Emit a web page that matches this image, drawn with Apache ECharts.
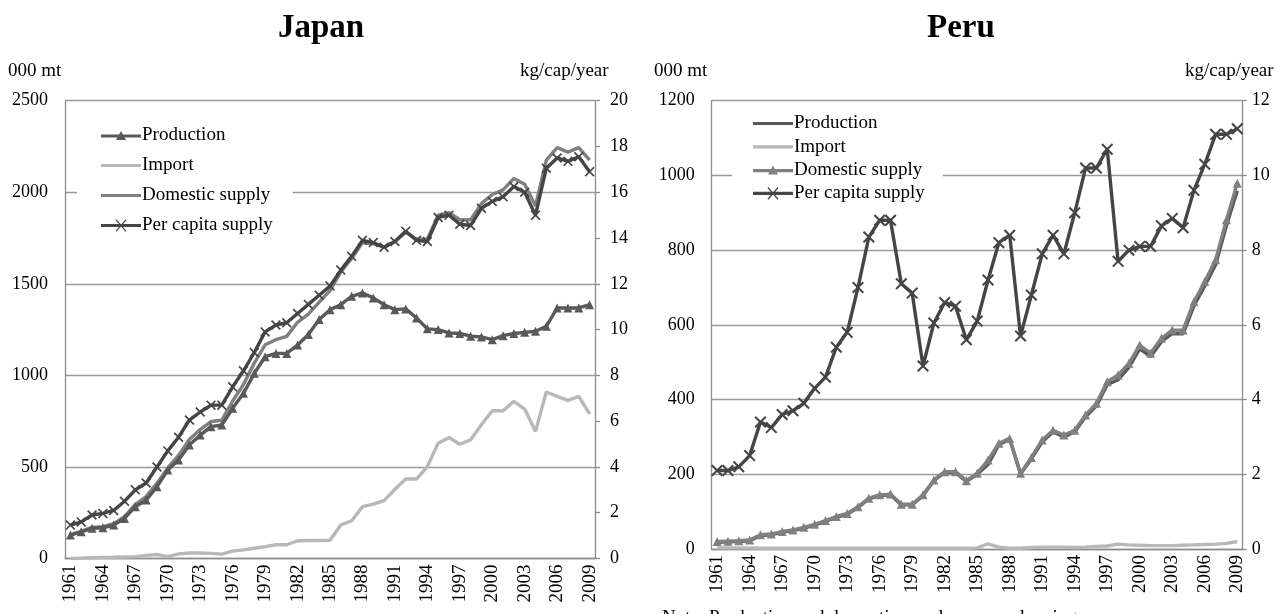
<!DOCTYPE html>
<html><head><meta charset="utf-8">
<script src="https://cdn.jsdelivr.net/npm/echarts@6/dist/echarts.min.js"></script>
<style>html,body{margin:0;padding:0;background:#fff}#c{width:1284px;height:614px}</style>
</head><body><div id="c"></div>
<script>
const years = ['1961','1962','1963','1964','1965','1966','1967','1968','1969','1970','1971','1972','1973','1974','1975','1976','1977','1978','1979','1980','1981','1982','1983','1984','1985','1986','1987','1988','1989','1990','1991','1992','1993','1994','1995','1996','1997','1998','1999','2000','2001','2002','2003','2004','2005','2006','2007','2008','2009'];

const jpProduction = [128,146,165,168,183,219,283,319,392,483, 538,620,674,720,729,820,902,1011,1102,1120, 1120,1166,1223,1305,1359,1386,1432,1450,1423,1386, 1359,1363,1313,1254,1250,1232,1229,1214,1210,1195, 1217,1229,1235,1241,1268,1368,1368,1368,1386];
const jpImport = [0,2,4,6,7,9,10,17,22,10, 25,30,30,28,24,40,47,56,65,75, 75,97,98,98,100,183,206,283,297,316, 378,434,434,502,630,661,624,648,730,807, 807,858,816,694,909,885,863,885,790];
const jpDomestic = [130,148,170,174,190,228,295,338,410,495, 563,650,704,748,755,860,950,1067,1167,1195, 1213,1290,1335,1400,1463,1565,1638,1725,1719,1700, 1731,1781,1744,1744,1875,1888,1850,1850,1938,1988, 2013,2075,2044,1925,2175,2244,2219,2244,2175];
const jpPerCapita = [1.46,1.6,1.9,1.97,2.1,2.5,3.0,3.3,4.0,4.7, 5.3,6.05,6.4,6.7,6.7,7.5,8.2,9.0,9.9,10.2, 10.3,10.7,11.1,11.5,11.9,12.6,13.2,13.9,13.8,13.6, 13.85,14.3,13.9,13.85,14.9,15.0,14.6,14.55,15.3,15.6, 15.8,16.25,16.0,15.0,17.05,17.5,17.35,17.55,16.9];

const peProduction = [18,19,20,22,36,38,45,49,56,64, 74,85,93,111,134,143,145,118,118,143, 183,205,205,181,200,226,279,294,201,241, 287,313,300,314,354,383,440,453,486,536, 515,555,577,576,651,704,761,866,959];
const peImport = [3,3,3,3,2,2,2,2,2,2, 2,2,2,2,2,2,2,2,2,2, 2,2,2,2,3,14,5,2,2,4, 5,5,5,4,5,7,8,13,11,10, 9,9,9,10,11,12,13,15,20];
const peDomestic = [20,21,22,24,38,40,47,51,58,66, 76,87,95,113,136,145,147,120,120,145, 185,207,207,183,203,238,283,296,203,245, 292,318,305,318,359,390,448,466,497,546, 524,564,586,586,662,716,774,881,979];
const pePerCapita = [2.1,2.1,2.2,2.5,3.4,3.25,3.6,3.7,3.9,4.3, 4.6,5.4,5.8,7.0,8.35,8.8,8.8,7.1,6.85,4.9, 6.05,6.6,6.5,5.6,6.1,7.2,8.2,8.4,5.7,6.8, 7.9,8.4,7.9,9.0,10.2,10.2,10.7,7.7,8.0,8.1, 8.1,8.65,8.85,8.6,9.6,10.3,11.1,11.1,11.25];

const seriesNames = ['Production','Import','Domestic supply','Per capita supply'];
const titles = ['Japan','Peru'];
const leftUnit = '000 mt', rightUnit = 'kg/cap/year';

const FONT = '"Liberation Serif", "Times New Roman", serif';
const XMARK = 'path://M0,1.2 L1.2,0 L10,8.8 L8.8,10 Z M8.8,0 L10,1.2 L1.2,10 L0,8.8 Z';
const cDark = '#454545', cProd = '#595959', cMid = '#808080', cLight = '#b8b8b8';
const axisCol = '#8c8c8c';

// legend icons (40 x 16 box)
const IC_LINE = 'path://M0,6.4 L40,6.4 L40,9.6 L0,9.6 Z';
const IC_TRI = 'path://M0,6.4 L40,6.4 L40,9.6 L0,9.6 Z M20,3 L25,12 L15,12 Z';
const IC_X = 'path://M0,6.4 L40,6.4 L40,9.6 L0,9.6 Z M14.5,2.6 L15.4,1.7 L25.5,13.4 L24.6,14.3 Z M24.6,1.7 L25.5,2.6 L15.4,14.3 L14.5,13.4 Z';

function xAx(gi){
  return {type:'category', gridIndex:gi, data:years, boundaryGap:true,
    axisLine:{lineStyle:{color:axisCol,width:1.3}}, axisTick:{show:false},
    axisLabel:{rotate:90, interval:2, color:'#000', fontFamily:FONT, fontSize:19, margin:6}};
}
function yAx(gi, max, interval, right, split, tickLen){
  return {type:'value', gridIndex:gi, min:0, max:max, interval:interval, position:right?'right':'left',
    axisLine:{show:true, lineStyle:{color:axisCol,width:1.3}},
    axisTick:{show:right, length:tickLen||5, inside:false, lineStyle:{color:axisCol,width:1.3}},
    splitLine:{show:split, lineStyle:{color:'#9a9a9a', width:1.3}},
    axisLabel:{color:'#000', fontFamily:FONT, fontSize:18, margin: right? (tickLen===4? 9:15):17,
      formatter:function(v){return String(v);}}};
}
function line(name, data, xi, yi, color, symbol, size, z){
  return {name:name, type:'line', xAxisIndex:xi, yAxisIndex:yi, data:data,
    symbol:symbol||'none', symbolSize:size||8, showSymbol:!!symbol, showAllSymbol:true, z:z||2,
    lineStyle:{color:color, width:3.4}, itemStyle:{color:color}, animation:false};
}

const chart = echarts.init(document.getElementById('c'), null, {renderer:'canvas'});
chart.setOption({
  backgroundColor:'#fff',
  animation:false,
  grid:[
    {left:65, right:689, top:100.7, bottom:55.5},
    {left:711.7, right:41.3, top:100.7, bottom:65}
  ],
  xAxis:[xAx(0), xAx(1)],
  yAxis:[
    yAx(0, 2500, 500, false, true),
    yAx(0, 20, 2, true, false, 5),
    yAx(1, 1200, 200, false, true),
    yAx(1, 12, 2, true, false, 4)
  ],
  legend:[
    {data:[{name:seriesNames[0],icon:IC_TRI},{name:seriesNames[1],icon:IC_LINE},{name:seriesNames[2],icon:IC_LINE},{name:seriesNames[3],icon:IC_X}],
     orient:'vertical', left:77, top:124, padding:[2,20,2,24], itemGap:11, itemWidth:40, itemHeight:16,
     backgroundColor:'#fff', textStyle:{fontFamily:FONT, fontSize:19, color:'#000', padding:[0,0,0,-4]},
     selectedMode:false, z:5},
    {data:[{name:seriesNames[0],icon:IC_LINE},{name:seriesNames[1],icon:IC_LINE},{name:seriesNames[2],icon:IC_TRI},{name:seriesNames[3],icon:IC_X}],
     orient:'vertical', left:732, top:113, padding:[1,18,1,21], itemGap:4.3, itemWidth:40, itemHeight:16,
     backgroundColor:'#fff', textStyle:{fontFamily:FONT, fontSize:19, color:'#000', padding:[0,0,0,-4]},
     selectedMode:false, z:5}
  ],
  graphic:[
    {type:'text', left:278, top:12, style:{text:titles[0], font:'bold 33px '+FONT, fill:'#000'}},
    {type:'text', left:927, top:12, style:{text:titles[1], font:'bold 33px '+FONT, fill:'#000'}},
    {type:'text', left:8, top:62, style:{text:leftUnit, font:'19px '+FONT, fill:'#000'}},
    {type:'text', left:520, top:62, style:{text:rightUnit, font:'19px '+FONT, fill:'#000'}},
    {type:'text', left:654, top:62, style:{text:leftUnit, font:'19px '+FONT, fill:'#000'}},
    {type:'text', left:1185, top:62, style:{text:rightUnit, font:'19px '+FONT, fill:'#000'}},
    {type:'text', left:662, top:609, style:{text:'Note: Production and domestic supply are overlapping', font:'19px '+FONT, fill:'#000'}}
  ],
  series:[
    line('Production', jpProduction, 0, 0, cProd, 'triangle', 9, 3),
    line('Import', jpImport, 0, 0, cLight, null, 0, 2),
    line('Domestic supply', jpDomestic, 0, 0, cMid, null, 0, 2),
    line('Per capita supply', jpPerCapita, 0, 1, cDark, XMARK, 10, 4),
    line('Production', peProduction, 1, 2, cProd, null, 0, 2),
    line('Import', peImport, 1, 2, cLight, null, 0, 2),
    line('Domestic supply', peDomestic, 1, 2, cMid, 'triangle', 9, 3),
    line('Per capita supply', pePerCapita, 1, 3, cDark, XMARK, 12, 4)
  ]
});
</script></body></html>
